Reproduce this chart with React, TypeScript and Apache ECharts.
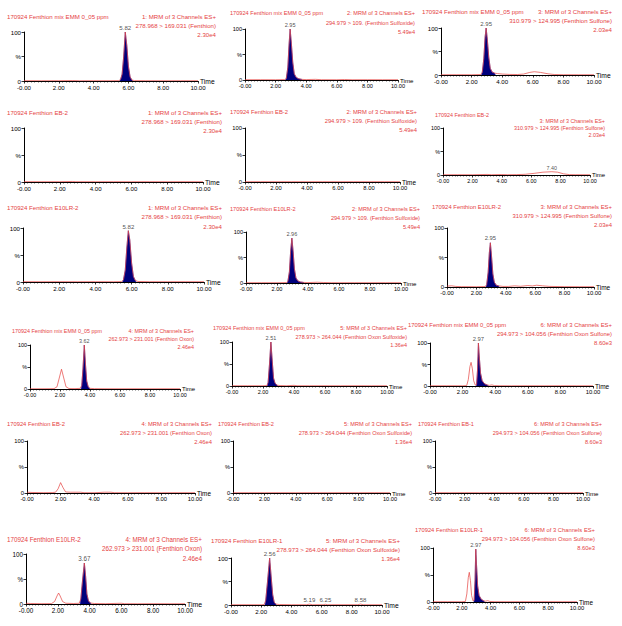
import React, { useEffect, useRef } from 'react';
import * as echarts from 'echarts';

// ---------- DATA ----------
const T_MIX = '170924 Fenthion mix EMM 0_05 ppm';
const T_EB2 = '170924 Fenthion EB-2';
const T_EB1 = '170924 Fenthion EB-1';
const T_LR2 = '170924 Fenthion E10LR-2';
const T_LR1 = '170924 Fenthion E10LR-1';

const titles = [
  T_MIX, T_MIX, T_MIX,
  T_EB2, T_EB2, T_EB2,
  T_LR2, T_LR2, T_LR2,
  T_MIX, T_MIX, T_MIX,
  T_EB2, T_EB2, T_EB1,
  T_LR2, T_LR1, T_LR1,
];

const ch1 = ['1: MRM of 3 Channels ES+', '278.968 > 169.031 (Fenthion)', '2.30e4'];
const ch2 = ['2: MRM of 3 Channels ES+', '294.979 > 109. (Fenthion Sulfoxide)', '5.49e4'];
const ch3 = ['3: MRM of 3 Channels ES+', '310.979 > 124.995 (Fenthion Sulfone)', '2.03e4'];
const ch4 = ['4: MRM of 3 Channels ES+', '262.973 > 231.001 (Fenthion Oxon)', '2.46e4'];
const ch5 = ['5: MRM of 3 Channels ES+', '278.973 > 264.044 (Fenthion Oxon Sulfoxide)', '1.36e4'];
const ch6 = ['6: MRM of 3 Channels ES+', '294.973 > 104.056 (Fenthion Oxon Sulfone)', '8.60e3'];

const channels = [ch1, ch2, ch3, ch1, ch2, ch3, ch1, ch2, ch3, ch4, ch5, ch6, ch4, ch5, ch6, ch4, ch5, ch6];

const timeTicks = [0, 2, 4, 6, 8, 10];

// traces: [time (min), intensity (%)]
const p1Trace = [[0,0.6],[1,0.5],[2,0.6],[2.8,0.9],[3.2,0.5],[4,0.6],[5,0.6],[5.45,0.8],[5.55,3],[5.64,14],[5.73,50],[5.82,100],[5.91,72],[6.0,30],[6.1,8],[6.2,2],[6.35,0.8],[7,0.6],[8,0.5],[9,0.6],[10,0.5]];
const p2Trace = [[0,0.5],[1,0.6],[2,0.5],[2.6,0.8],[2.7,3],[2.8,25],[2.88,70],[2.95,100],[3.03,72],[3.12,35],[3.22,12],[3.35,5],[3.5,2.5],[3.7,1.2],[4,0.8],[4.6,1.3],[5,0.6],[6,0.5],[6.5,1],[7,0.5],[8,0.6],[9,0.5],[10,0.5]];
const p3Trace = [[0,0.5],[1,0.6],[2,0.5],[2.6,1],[2.7,6],[2.8,35],[2.88,80],[2.95,100],[3.03,75],[3.12,38],[3.22,14],[3.35,6],[3.5,4],[3.7,3],[4,2],[4.5,1.2],[5,1],[5.4,2],[5.8,5.5],[6.1,7],[6.5,5.5],[7,2.5],[7.4,1],[8,0.6],[9,0.5],[10,0.5]];
const p4Trace = [[0,0.6],[1,0.5],[2,0.6],[2.7,1],[2.9,0.6],[4,0.5],[5,0.6],[6,0.5],[7,0.6],[8,0.5],[9,0.6],[10,0.5]];
const p5Trace = [[0,0.5],[1,0.6],[2,0.5],[3,0.6],[4,0.5],[5,0.6],[6,0.5],[7,0.6],[8,0.5],[9,0.6],[10,0.5]];
const p6Trace = [[0,0.5],[1,0.6],[2,0.5],[3,1.2],[3.3,0.6],[4,1],[4.4,0.6],[5,0.8],[5.6,1.5],[6.2,3.5],[6.8,6],[7.4,7],[7.8,6],[8.2,2.5],[8.6,0.8],[9,0.6],[10,0.5]];
const p7Trace = [[0,0.6],[1,0.5],[2,0.6],[3,0.5],[4,0.6],[5,0.5],[5.45,0.8],[5.55,4],[5.65,22],[5.74,65],[5.82,95],[5.9,78],[6.0,35],[6.1,10],[6.2,3],[6.35,1],[7,0.6],[8,0.5],[9,0.6],[10,0.5]];
const p8Trace = [[0,0.5],[1,0.6],[2,0.5],[2.6,0.8],[2.7,3],[2.8,22],[2.88,62],[2.96,88],[3.04,62],[3.12,28],[3.22,10],[3.35,4],[3.5,2],[3.7,1.2],[4,0.8],[4.6,1.5],[5,1],[5.5,0.6],[6,0.5],[7,0.6],[8,0.5],[9,0.6],[10,0.5]];
const p9Trace = [[0,1.5],[0.3,2],[0.6,1],[1,0.6],[2,0.5],[2.6,0.8],[2.7,4],[2.8,25],[2.88,58],[2.95,75],[3.03,52],[3.12,22],[3.22,8],[3.35,3],[3.5,2],[3.8,1],[4.2,1],[4.6,2],[5,1.2],[5.5,2.5],[5.8,1.8],[6.1,3],[6.5,2],[7,1],[8,0.6],[9,0.5],[10,0.5]];
const p10Trace = [[0,0.5],[1,0.6],[1.6,0.8],[1.8,5],[1.95,25],[2.1,45],[2.25,25],[2.4,5],[2.6,1],[3,0.8],[3.35,1.5],[3.45,8],[3.53,45],[3.62,100],[3.7,55],[3.78,18],[3.88,5],[4,1.5],[4.3,0.8],[5,0.6],[6,0.5],[7,0.6],[8,0.5],[9,0.6],[10,0.5]];
const p11Trace = [[0,0.5],[1,0.6],[2,0.5],[2.25,1],[2.33,8],[2.42,50],[2.51,100],[2.6,55],[2.68,18],[2.78,6],[2.9,2],[3.1,1],[3.5,0.6],[4,1.5],[4.2,0.6],[5,0.5],[6,0.6],[7,0.5],[8,0.6],[9,0.5],[10,0.5]];
const p12Trace = [[0,0.5],[1,0.6],[2,0.5],[2.25,1],[2.35,15],[2.45,45],[2.52,55],[2.6,40],[2.68,12],[2.78,2],[2.86,3],[2.92,40],[2.97,100],[3.02,70],[3.1,30],[3.2,12],[3.35,5],[3.5,2.5],[3.65,1.5],[3.8,2.5],[3.95,1],[4.3,0.6],[5,0.5],[6,0.6],[7,0.5],[8,0.6],[9,0.5],[10,0.5]];
const p13Trace = [[0,1.5],[0.3,1],[1,0.6],[1.5,0.8],[1.7,1.5],[1.85,8],[2.0,20],[2.15,10],[2.3,2],[2.6,1.5],[3.2,1.5],[3.4,0.6],[4,0.5],[4.6,1.5],[5.0,1.5],[5.2,0.6],[6,0.5],[7,0.6],[8,0.5],[9,0.6],[10,0.5]];
const p14Trace = [[0,0.5],[1,0.6],[2,0.5],[3,0.6],[4,0.5],[5,0.6],[6,0.5],[7,0.6],[8,0.5],[9,0.6],[10,0.5]];
const p15Trace = [[0,0.6],[1,0.5],[2,0.6],[3,0.5],[4,0.6],[5,0.5],[6,0.6],[7,0.5],[8,0.6],[9,0.5],[10,0.6]];
const p16Trace = [[0,1.5],[0.3,1],[1,0.6],[1.6,0.8],[1.8,5],[1.95,16],[2.05,22],[2.15,16],[2.3,5],[2.5,1.5],[3,1],[3.35,1.5],[3.45,10],[3.55,45],[3.67,82],[3.75,55],[3.83,20],[3.93,6],[4.05,2],[4.3,1],[5,0.6],[6,1.5],[6.2,0.6],[7,0.5],[8,0.6],[9,0.5],[10,0.5]];
const p17Trace = [[0,0.5],[1,0.6],[2,0.5],[2.2,1],[2.3,10],[2.42,50],[2.56,100],[2.66,60],[2.76,22],[2.86,6],[2.96,2],[3.2,1],[4,0.6],[5,0.6],[5.19,1.8],[5.4,0.6],[6.1,0.6],[6.25,1.5],[6.4,0.6],[8.4,0.6],[8.58,2],[8.75,0.6],[9,0.5],[10,0.5]];
const p18Trace = [[0,0.5],[1,0.6],[2,0.5],[2.25,1],[2.35,15],[2.45,45],[2.52,55],[2.6,40],[2.68,12],[2.78,2],[2.86,3],[2.92,40],[2.97,98],[3.02,70],[3.1,30],[3.2,12],[3.35,5],[3.5,2.5],[3.65,1.5],[3.8,2.5],[3.95,1],[4.3,0.6],[5,0.5],[6,0.6],[7,0.5],[8,0.6],[9,0.5],[10,0.5]];

const traces = [p1Trace, p2Trace, p3Trace, p4Trace, p5Trace, p6Trace, p7Trace, p8Trace, p9Trace,
  p10Trace, p11Trace, p12Trace, p13Trace, p14Trace, p15Trace, p16Trace, p17Trace, p18Trace];

// integrated (filled) peak windows [start, end] in minutes
const peakWindows = [
  [5.5, 6.25], [2.65, 3.75], [2.65, 3.55],
  null, null, null,
  [5.5, 6.25], [2.65, 3.75], [2.65, 3.55],
  [3.4, 4.0], [2.28, 2.95], [2.84, 3.6],
  null, null, null,
  [3.4, 4.1], [2.25, 3.0], [2.84, 3.6],
];

// peak labels [time, intensity, text]
const peakLabels = [
  [[5.82, 100, '5.82']], [[2.95, 100, '2.95']], [[2.95, 100, '2.95']],
  [], [], [[7.4, 7, '7.40']],
  [[5.82, 95, '5.82']], [[2.96, 88, '2.96']], [[2.95, 75, '2.95']],
  [[3.62, 100, '3.62']], [[2.51, 100, '2.51']], [[2.97, 100, '2.97']],
  [], [], [],
  [[3.67, 82, '3.67']], [[2.56, 100, '2.56'], [5.19, 1.8, '5.19'], [6.25, 1.5, '6.25'], [8.58, 2, '8.58']], [[2.97, 98, '2.97']],
];

// ---------- LAYOUT (pixels) ----------
const layout = [
  { x0: 24, x10: 198, y100: 32, y0: 81, tx: 7, ty: 16, rx: 216, ry: 16, gap: 9, fs: 6.1 },
  { x0: 245, x10: 398, y100: 29, y0: 80, tx: 230, ty: 13, rx: 415, ry: 13, gap: 9.5, fs: 5.6 },
  { x0: 441, x10: 594, y100: 28, y0: 75, tx: 422, ty: 11, rx: 612, ry: 11, gap: 9, fs: 6.1 },
  { x0: 24, x10: 203, y100: 128, y0: 182, tx: 7, ty: 112, rx: 222, ry: 112, gap: 9, fs: 6.1 },
  { x0: 245, x10: 400, y100: 128, y0: 182, tx: 230, ty: 112, rx: 417, ry: 112, gap: 9, fs: 5.8 },
  { x0: 443, x10: 590, y100: 128, y0: 175, tx: 435, ty: 115, rx: 605, ry: 121, gap: 6.8, fs: 5.4 },
  { x0: 23, x10: 204, y100: 228, y0: 282, tx: 7, ty: 207, rx: 222, ry: 207, gap: 9.5, fs: 6.1 },
  { x0: 246, x10: 401, y100: 232, y0: 283, tx: 230, ty: 209, rx: 420, ry: 209, gap: 9, fs: 5.6 },
  { x0: 447, x10: 594, y100: 228, y0: 287, tx: 432, ty: 207, rx: 612, ry: 207, gap: 9, fs: 5.9 },
  { x0: 30, x10: 180, y100: 345, y0: 389, tx: 12, ty: 331, rx: 194, ry: 331, gap: 8, fs: 5.4 },
  { x0: 232, x10: 387, y100: 342, y0: 386, tx: 213, ty: 328, rx: 407, ry: 328, gap: 8.5, fs: 5.5 },
  { x0: 430, x10: 593, y100: 343, y0: 386, tx: 408, ty: 325, rx: 612, ry: 325, gap: 9, fs: 5.9 },
  { x0: 27, x10: 195, y100: 441, y0: 493, tx: 7, ty: 424, rx: 212, ry: 424, gap: 9, fs: 5.8 },
  { x0: 233, x10: 390, y100: 441, y0: 493, tx: 218, ty: 424, rx: 412, ry: 424, gap: 9, fs: 5.6 },
  { x0: 435, x10: 583, y100: 441, y0: 493, tx: 418, ty: 424, rx: 602, ry: 424, gap: 9, fs: 5.6 },
  { x0: 26, x10: 185, y100: 554, y0: 604, tx: 7, ty: 539, rx: 202, ry: 539, gap: 9.5, fs: 6.3 },
  { x0: 231, x10: 382, y100: 558, y0: 605, tx: 211, ty: 540, rx: 400, ry: 540, gap: 9, fs: 6.1 },
  { x0: 433, x10: 577, y100: 548, y0: 602, tx: 415, ty: 530, rx: 595, ry: 530, gap: 9, fs: 5.8 },
];

const RED = '#e5423f';
const FONT = '"Liberation Sans", Arial, sans-serif';

function buildOption() {
  const grid: any[] = [];
  const xAxis: any[] = [];
  const yAxis: any[] = [];
  const series: any[] = [];
  const graphic: any[] = [];

  layout.forEach((L, i) => {
    grid.push({ left: L.x0, top: L.y100, width: L.x10 - L.x0, height: L.y0 - L.y100, containLabel: false });
    xAxis.push({
      type: 'value', gridIndex: i, min: timeTicks[0], max: timeTicks[timeTicks.length - 1], interval: 2,
      name: 'Time', nameLocation: 'end', nameGap: 2,
      nameTextStyle: { fontSize: L.fs + 0.6, color: '#000', fontFamily: FONT },
      axisLine: { show: true, lineStyle: { color: '#000', width: 1 } },
      axisTick: { show: true, length: 2.5, lineStyle: { color: '#000', width: 0.8 } },
      minorTick: { show: true, splitNumber: 10, length: 1.5, lineStyle: { color: '#000', width: 0.6 } },
      splitLine: { show: false },
      axisLabel: {
        fontSize: L.fs, lineHeight: L.fs, color: '#000', margin: 3.5, fontFamily: FONT,
        formatter: (v: number) => (v === 0 ? '-0.00' : v.toFixed(2)),
      },
    });
    yAxis.push({
      type: 'value', gridIndex: i, min: 0, max: 100, interval: 50,
      axisLine: { show: true, lineStyle: { color: '#000', width: 1 } },
      axisTick: { show: true, length: 2.5, lineStyle: { color: '#000', width: 0.8 } },
      splitLine: { show: false },
      axisLabel: {
        fontSize: L.fs, lineHeight: L.fs, color: '#000', margin: 3, fontFamily: FONT,
        formatter: (v: number) => (v === 50 ? '%' : String(v)),
      },
    });

    const tr = traces[i];
    const win = peakWindows[i];
    if (win) {
      const inside = tr.filter((p) => p[0] > win[0] && p[0] < win[1]);
      const fill = [[win[0], 0], ...inside, [win[1], 0]];
      series.push({
        type: 'line', xAxisIndex: i, yAxisIndex: i, data: fill, symbol: 'none', silent: true, z: 2,
        lineStyle: { color: '#1c1cb0', width: 0.6 },
        areaStyle: { color: '#00007c', opacity: 1 },
      });
    }
    series.push({
      type: 'line', xAxisIndex: i, yAxisIndex: i, data: tr, symbol: 'none', silent: true, z: 3,
      lineStyle: { color: RED, width: 0.7 },
    });
    if (peakLabels[i].length) {
      series.push({
        type: 'scatter', xAxisIndex: i, yAxisIndex: i, silent: true, z: 4,
        symbolSize: 1, itemStyle: { color: 'rgba(0,0,0,0)' },
        data: peakLabels[i].map((d: any) => [d[0], d[1], d[2]]),
        label: {
          show: true, position: 'top', distance: 1, fontSize: L.fs, color: '#222', fontFamily: FONT,
          formatter: (p: any) => p.value[2],
        },
      });
    }

    graphic.push({
      type: 'text', x: L.tx, y: L.ty, silent: true,
      style: { text: titles[i], fill: RED, fontSize: L.fs, fontFamily: FONT, align: 'left', verticalAlign: 'middle', textAlign: 'left', textVerticalAlign: 'middle' },
    });
    channels[i].forEach((line, k) => {
      graphic.push({
        type: 'text', x: L.rx, y: L.ry + k * L.gap, silent: true,
        style: { text: line, fill: RED, fontSize: L.fs, fontFamily: FONT, align: 'right', verticalAlign: 'middle', textAlign: 'right', textVerticalAlign: 'middle' },
      });
    });
  });

  return {
    animation: false,
    backgroundColor: '#ffffff',
    textStyle: { fontFamily: FONT },
    grid, xAxis, yAxis, series, graphic,
  };
}

export default function App() {
  const ref = useRef<HTMLDivElement>(null);
  useEffect(() => {
    document.body.style.margin = '0';
    if (!ref.current) return;
    const chart = echarts.init(ref.current, undefined, { renderer: 'svg' });
    chart.setOption(buildOption() as any);
    return () => chart.dispose();
  }, []);
  return <div ref={ref} style={{ width: 622, height: 626 }} />;
}
